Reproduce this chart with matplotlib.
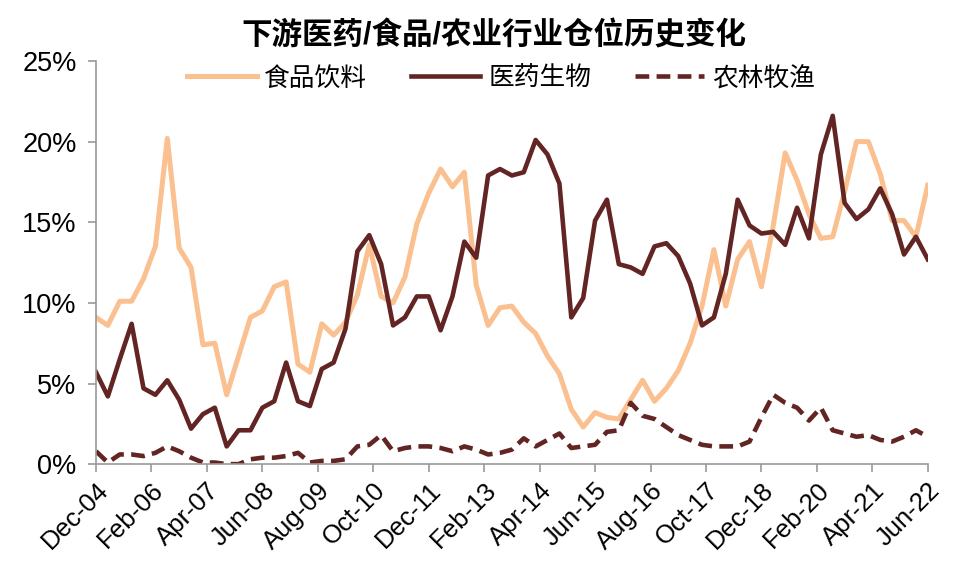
import numpy as np
import matplotlib.pyplot as plt

plt.rcParams['font.family'] = ['Liberation Sans', 'Noto Sans CJK SC', 'DejaVu Sans']

# 季度数据, Dec-04 .. Jun-22 (71 个季度), 单位 %
food = [9.1, 8.6, 10.1, 10.1, 11.5, 13.5, 20.2, 13.4, 12.2, 7.4,
        7.5, 4.3, 6.7, 9.1, 9.5, 11.0, 11.3, 6.2, 5.7, 8.7,
        8.0, 8.8, 10.5, 13.6, 10.4, 10.0, 11.6, 14.9, 16.8, 18.3,
        17.2, 18.1, 11.1, 8.6, 9.7, 9.8, 8.8, 8.1, 6.7, 5.6,
        3.4, 2.3, 3.2, 2.9, 2.8, 4.0, 5.2, 3.9, 4.7, 5.8,
        7.5, 9.8, 13.3, 9.8, 12.7, 13.8, 11.0, 14.8, 19.3, 17.6,
        15.5, 14.0, 14.1, 16.9, 20.0, 20.0, 18.0, 15.1, 15.1, 14.1,
        17.3]
medicine = [5.7, 4.2, 6.5, 8.7, 4.7, 4.3, 5.2, 4.0, 2.2, 3.1,
            3.5, 1.1, 2.1, 2.1, 3.5, 3.9, 6.3, 3.9, 3.6, 5.9,
            6.3, 8.4, 13.2, 14.2, 12.4, 8.6, 9.1, 10.4, 10.4, 8.3,
            10.4, 13.8, 12.8, 17.9, 18.3, 17.9, 18.1, 20.1, 19.2, 17.4,
            9.1, 10.3, 15.1, 16.4, 12.4, 12.2, 11.8, 13.5, 13.7, 12.9,
            11.2, 8.6, 9.1, 11.8, 16.4, 14.8, 14.3, 14.4, 13.6, 15.9,
            14.0, 19.2, 21.6, 16.2, 15.2, 15.8, 17.1, 15.5, 13.0, 14.1,
            12.7]
agri = [0.8, 0.1, 0.6, 0.6, 0.5, 0.7, 1.1, 0.8, 0.4, 0.1,
        0.1, 0.0, 0.0, 0.3, 0.4, 0.4, 0.5, 0.7, 0.1, 0.2,
        0.2, 0.3, 1.1, 1.2, 1.8, 0.8, 1.0, 1.1, 1.1, 1.0,
        0.8, 1.1, 0.9, 0.6, 0.7, 0.9, 1.6, 1.1, 1.5, 1.9,
        1.0, 1.1, 1.2, 2.0, 2.1, 3.8, 3.0, 2.8, 2.3, 1.8,
        1.5, 1.2, 1.1, 1.1, 1.1, 1.4, 2.9, 4.3, 3.8, 3.5,
        2.7, 3.5, 2.1, 1.9, 1.7, 1.8, 1.5, 1.4, 1.7, 2.1,
        1.7]
tick_labels = ['Dec-04', 'Feb-06', 'Apr-07', 'Jun-08', 'Aug-09', 'Oct-10',
               'Dec-11', 'Feb-13', 'Apr-14', 'Jun-15', 'Aug-16', 'Oct-17',
               'Dec-18', 'Feb-20', 'Apr-21', 'Jun-22']

x = np.arange(len(food))

fig = plt.figure(figsize=(9.55, 5.78), dpi=100)
ax = fig.add_axes([0.1005, 0.197, 0.871, 0.6975])

ax.plot(x, food, color='#FAC090', lw=3.6, label='食品饮料')
ax.plot(x, medicine, color='#632523', lw=3.3, label='医药生物')
ax.plot(x, agri, color='#632523', lw=3.3, ls=(0, (3, 1.6)), label='农林牧渔')

ax.set_xlim(0, len(food) - 1)
ax.set_ylim(0, 25)
# 每 14 个月一个刻度
ax.set_xticks(np.arange(len(tick_labels)) * 14 / 3)
ax.set_xticklabels(tick_labels, rotation=45, ha='right', rotation_mode='anchor', fontsize=18.5)
ax.set_yticks(range(0, 26, 5))
ax.set_yticklabels([f'{v}%' for v in range(0, 26, 5)], fontsize=19.5)

for s in ['top', 'right']:
    ax.spines[s].set_visible(False)
for s in ['left', 'bottom']:
    ax.spines[s].set_color('#999999')
    ax.spines[s].set_linewidth(1.2)
ax.tick_params(axis='both', colors='#999999', labelcolor='black', length=6, width=1.2, pad=4)
ax.tick_params(axis='y', pad=8)

ax.legend(loc='upper center', bbox_to_anchor=(0.487, 1.045), ncol=3, frameon=False,
          fontsize=18.5, handlelength=2.7, columnspacing=1.7, handletextpad=0.3)

fig.text(0.517, 0.937, '下游医药/食品/农业行业仓位历史变化', ha='center', va='center',
         fontsize=22, fontweight='bold')

fig.savefig('out.png', dpi=100)
